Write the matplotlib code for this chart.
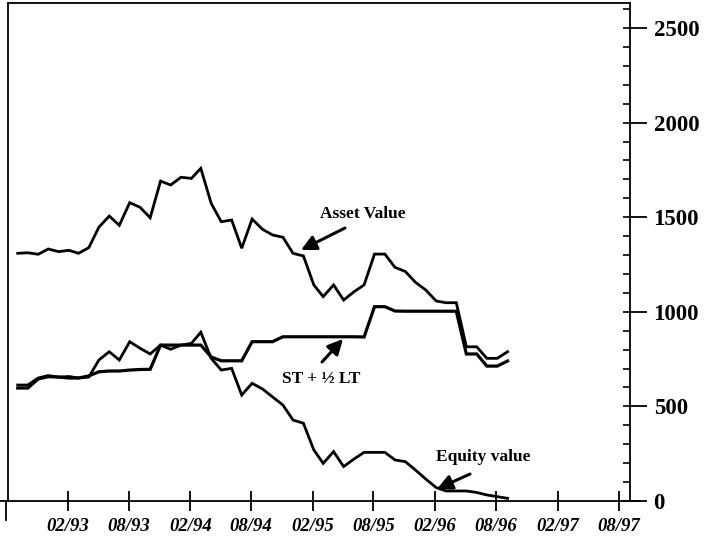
import numpy as np
import pandas as pd
import matplotlib
matplotlib.use("Agg")
import matplotlib.pyplot as plt
import matplotlib.dates as mdates
from matplotlib.ticker import MultipleLocator, FixedLocator

# ---- data (monthly observations, Sep 1992 - Sep 1996) ----
dates = pd.date_range("1992-09-04", periods=49, freq=pd.DateOffset(months=1))

asset_value = [1309, 1312, 1304, 1332, 1318, 1325, 1309, 1339, 1447, 1506,
               1457, 1577, 1552, 1497, 1691, 1670, 1711, 1705, 1758, 1573,
               1476, 1485, 1336, 1490, 1436, 1406, 1394, 1309, 1295, 1142,
               1080, 1142, 1062, 1106, 1142, 1305, 1305, 1235, 1213, 1156,
               1115, 1057, 1048, 1048, 815, 815, 754, 754, 789]

st_half_lt = [597, 597, 645, 657, 655, 650, 650, 661, 683, 687,
              687, 692, 695, 696, 824, 824, 824, 824, 824, 761,
              741, 741, 741, 842, 842, 842, 868, 868, 868, 868,
              868, 868, 868, 868, 867, 1027, 1027, 1004, 1003, 1003,
              1003, 1003, 1003, 1003, 777, 777, 713, 713, 740]

equity_value = [613, 613, 650, 663, 655, 658, 650, 655, 745, 789,
                745, 842, 807, 777, 824, 802, 824, 833, 892, 754,
                692, 701, 560, 622, 592, 550, 507, 428, 411, 270,
                199, 261, 182, 222, 257, 257, 257, 217, 208, 164,
                116, 71, 53, 53, 53, 45, 32, 23, 14]

tick_dates = pd.date_range("1993-02-01", "1997-08-01", freq="6MS")
tick_labels = ["02/93", "08/93", "02/94", "08/94", "02/95",
               "08/95", "02/96", "08/96", "02/97", "08/97"]
y_major = [0, 500, 1000, 1500, 2000, 2500]

# ---- figure ----
W, H = 706, 543
fig = plt.figure(figsize=(W / 100, H / 100), dpi=100)
ax = fig.add_axes([8 / W, 42 / H, 622 / W, 498 / H])

lw = 2.0
ax.plot(dates, asset_value, color="black", lw=lw, solid_joinstyle="miter")
ax.plot(dates, st_half_lt, color="black", lw=lw + 0.3, solid_joinstyle="miter")
ax.plot(dates, equity_value, color="black", lw=lw, solid_joinstyle="miter")

x0 = pd.Timestamp("1993-02-01")
ax.set_xlim(mdates.date2num(x0 - pd.Timedelta(days=179)),
            mdates.date2num(pd.Timestamp("1997-09-04")))
ax.set_ylim(0, 2632)

# spines
for s in ["left", "top", "right"]:
    ax.spines[s].set_linewidth(1.3)
ax.spines["bottom"].set_visible(False)
ax.plot([-0.013, 1.016], [0, 0], transform=ax.transAxes, color="black",
        lw=1.3, clip_on=False)
ax.plot([-0.004, -0.004], [-0.038, 0], transform=ax.transAxes, color="black",
        lw=1.3, clip_on=False)

# x ticks
ax.xaxis.set_major_locator(FixedLocator(mdates.date2num(tick_dates)))
ax.set_xticklabels(tick_labels)
ax.tick_params(axis="x", direction="inout", length=15, width=1.3, pad=5)
for t in ax.get_xticklabels():
    t.set_fontfamily("Liberation Serif")
    t.set_fontweight("bold")
    t.set_fontstyle("italic")
    t.set_fontsize(13.5)

# y ticks on the right
ax.yaxis.tick_right()
ax.yaxis.set_major_locator(FixedLocator(y_major))
ax.yaxis.set_minor_locator(MultipleLocator(100))
ax.yaxis.remove_overlapping_locs = False
ax.tick_params(axis="y", which="major", direction="out", length=12,
               width=1.3, pad=5)
ax.tick_params(axis="y", which="minor", direction="in", length=5, width=1.2)
ax.tick_params(axis="y", which="both", left=False, right=True)
for t in ax.get_yticklabels():
    t.set_fontfamily("Liberation Serif")
    t.set_fontweight("bold")
    t.set_fontsize(16.5)

# annotations
def px2data(px, py):
    disp = (px, H - py)
    return ax.transData.inverted().transform(disp)

ann_font = dict(fontfamily="Liberation Serif", fontweight="bold", fontsize=12.5)
arrow = dict(arrowstyle="-|>,head_length=0.9,head_width=0.45", color="black",
             lw=2.2, shrinkA=0, shrinkB=0)

fig.canvas.draw()
ax.annotate("", xy=px2data(301, 250), xytext=px2data(345, 228),
            arrowprops=arrow)
ax.text(*px2data(320, 214), "Asset Value", ha="left", va="center", **ann_font)

ax.annotate("", xy=px2data(343, 339), xytext=px2data(322, 362),
            arrowprops=arrow)
ax.text(*px2data(282, 379), "ST + \u00bd LT", ha="left", va="center", **ann_font)

ax.annotate("", xy=px2data(437, 489), xytext=px2data(470, 474),
            arrowprops=arrow)
ax.text(*px2data(436, 457), "Equity value", ha="left", va="center", **ann_font)

fig.savefig("out.png", dpi=100)
